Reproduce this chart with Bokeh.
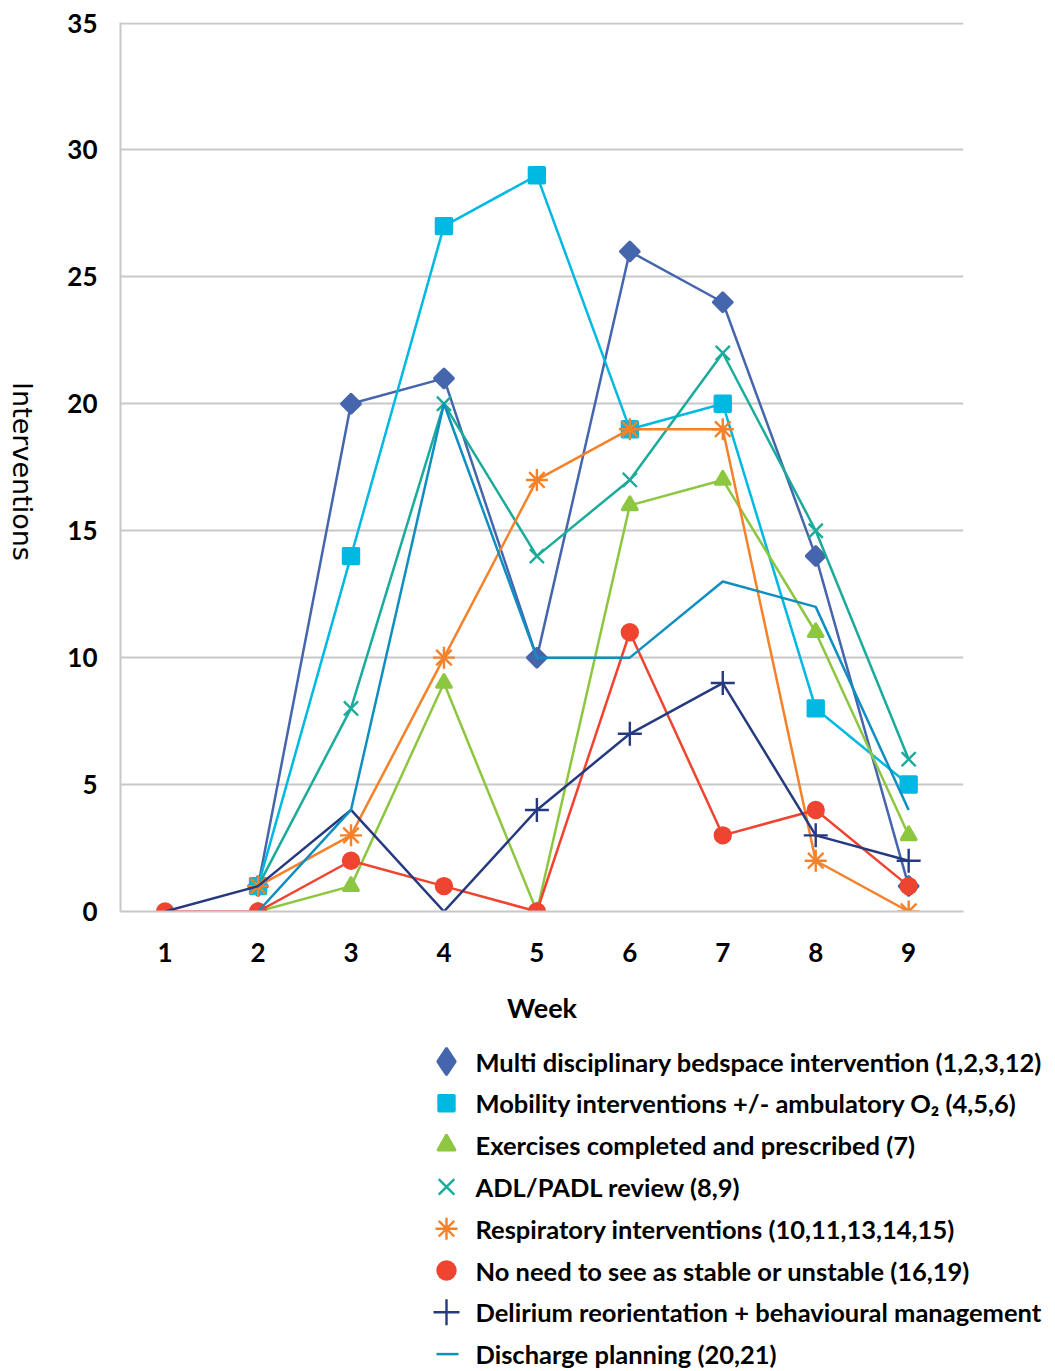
import math
from bokeh.plotting import figure
from bokeh.layouts import column, row
from bokeh.models import Range1d, FixedTicker
from bokeh.embed import file_html
from bokeh.resources import INLINE
from bokeh.core.properties import value

NaN = float("nan")

weeks = [1, 2, 3, 4, 5, 6, 7, 8, 9]
multi = [NaN, 1, 20, 21, 10, 26, 24, 14, 1]
mobility = [NaN, 1, 14, 27, 29, 19, 20, 8, 5]
exercises = [NaN, 0, 1, 9, 0, 16, 17, 11, 3]
adl = [NaN, 1, 8, 20, 14, 17, 22, 15, 6]
respiratory = [NaN, 1, 3, 10, 17, 19, 19, 2, 0]
no_need = [0, 0, 2, 1, 0, 11, 3, 4, 1]
delirium = [0, 1, 4, 0, 4, 7, 9, 3, 2]
discharge = [NaN, 0, 4, 20, 10, 10, 13, 12, 4]
# weeks at which the delirium series shows its "+" marker in the original
delirium_marked = [False, False, False, False, True, True, True, True, True]

y_ticks = [0, 5, 10, 15, 20, 25, 30, 35]
y_title = "Interventions"
x_title = "Week"

names = [
    "Multi disciplinary bedspace intervention (1,2,3,12)",
    "Mobility interventions +/- ambulatory O\u2082 (4,5,6)",
    "Exercises completed and prescribed (7)",
    "ADL/PADL review (8,9)",
    "Respiratory interventions (10,11,13,14,15)",
    "No need to see as stable or unstable (16,19)",
    "Delirium reorientation + behavioural management",
    "Discharge planning (20,21)",
]
series = [multi, mobility, exercises, adl, respiratory, no_need, delirium, discharge]
colors = ["#4565ad", "#00b9e2", "#8dc63f", "#1aab9b", "#f5822a", "#ee4430", "#263a7f", "#0f8fc1"]
markers = ["square", "square", "triangle", "x", "asterisk", "circle", "cross", None]
msizes = [14, 16, 16, 20, 22, 16, 24, None]
mangles = [math.pi / 4, 0, 0, 0, 0, 0, 0, 0]

FONT = "Lato"
TOP_H = 1038
LAB_W = 45


def no_align(fig):
    try:
        fig.frame_align = False
    except Exception:
        pass


# narrow panel carrying the y-axis title (reads top to bottom)
yl = figure(width=LAB_W, height=TOP_H, x_range=Range1d(0, LAB_W), y_range=Range1d(0, TOP_H),
            output_backend="svg", toolbar_location=None, min_border=0,
            min_border_left=0, min_border_right=0, min_border_top=0, min_border_bottom=0,
            x_axis_type=None, y_axis_type=None)
no_align(yl)
yl.outline_line_color = None
yl.xgrid.visible = False
yl.ygrid.visible = False
yl.text([22], [TOP_H - 471], text=[y_title], angle=-math.pi / 2,
        text_font=value("DejaVu Sans"), text_font_size="27px", text_color="black",
        text_align="center", text_baseline="middle")

p = figure(width=1055 - LAB_W, height=TOP_H, x_range=Range1d(0.52, 9.59),
           y_range=Range1d(0, 35.02), output_backend="svg", toolbar_location=None,
           min_border_left=120 - LAB_W, min_border_right=92, min_border_top=22,
           min_border_bottom=127)
no_align(p)
p.outline_line_color = None
p.xgrid.visible = False
p.ygrid.grid_line_color = "#c8c8c8"
p.ygrid.grid_line_width = 2
p.xaxis.ticker = FixedTicker(ticks=weeks)
p.yaxis.ticker = FixedTicker(ticks=y_ticks)
for ax in (p.xaxis, p.yaxis):
    ax.axis_line_color = "#c8c8c8"
    ax.axis_line_width = 2
    ax.major_tick_line_color = None
    ax.minor_tick_line_color = None
    ax.major_label_text_font = FONT
    ax.major_label_text_font_style = "bold"
    ax.major_label_text_font_size = "26px"
    ax.major_label_text_color = "black"
p.yaxis.major_label_standoff = 17
p.xaxis.major_label_standoff = 25
p.xaxis.axis_label = x_title
p.xaxis.axis_label_text_font = FONT
p.xaxis.axis_label_text_font_style = "bold"
p.xaxis.axis_label_text_font_size = "27px"
p.xaxis.axis_label_text_color = "black"
p.xaxis.axis_label_standoff = 26

for vals, col, mk, ms, ang in zip(series, colors, markers, msizes, mangles):
    p.line(weeks, vals, line_color=col, line_width=2.5)
    if mk is None:
        continue
    if vals is delirium:
        mx = [w for w, s in zip(weeks, delirium_marked) if s]
        my = [v for v, s in zip(delirium, delirium_marked) if s]
    else:
        mx, my = weeks, vals
    p.scatter(mx, my, marker=mk, size=ms, angle=ang, fill_color=col, line_color=col,
              line_width=2.4)

# legend panel (page-pixel coordinates)
lf = figure(width=1055, height=330, x_range=Range1d(0, 1055), y_range=Range1d(330, 0),
            output_backend="svg", toolbar_location=None, min_border=0,
            min_border_left=0, min_border_right=0, min_border_top=0, min_border_bottom=0,
            x_axis_type=None, y_axis_type=None)
no_align(lf)
lf.outline_line_color = None
lf.xgrid.visible = False
lf.ygrid.visible = False

row_y = [23 + 41.8 * i for i in range(len(names))]
leg_markers = ["diamond", "square", "triangle", "x", "asterisk", "circle", "cross"]
leg_sizes = [27, 16, 18, 22, 22, 18, 26]
for i in range(7):
    lf.scatter([446], [row_y[i]], marker=leg_markers[i], size=leg_sizes[i],
               fill_color=colors[i], line_color=colors[i], line_width=2.4)
lf.segment([436], [row_y[7]], [458], [row_y[7]], line_color=colors[7], line_width=2.5)
lf.text([475] * len(names), row_y, text=names, text_font=value(FONT), text_font_style="bold",
        text_font_size="25.5px", text_color="black", text_baseline="middle", text_align="left")

layout = column(row(yl, p, spacing=0), lf, spacing=0)
open("out.html", "w").write(file_html(layout, INLINE))
